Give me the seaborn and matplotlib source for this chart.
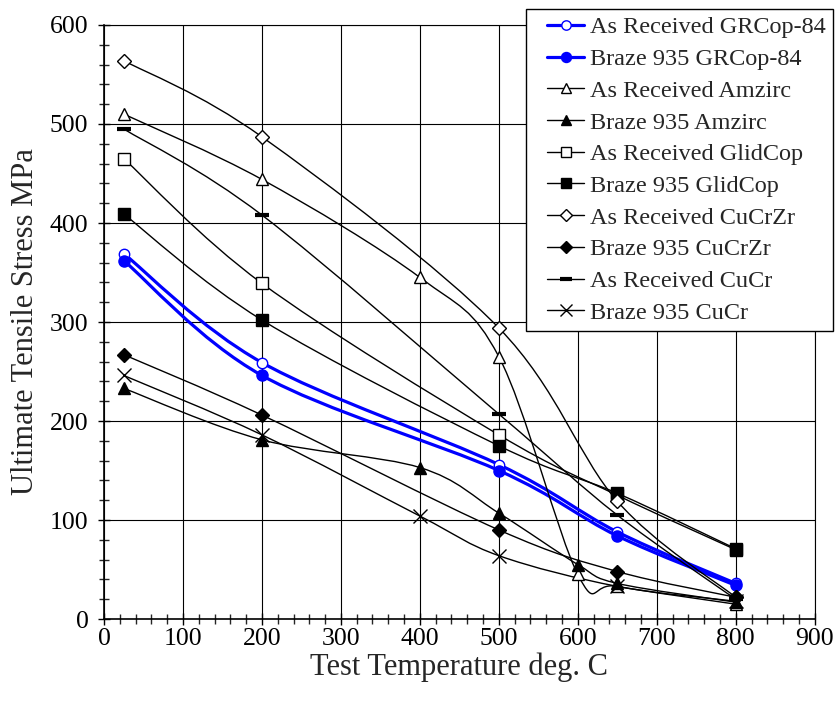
import numpy as np
import matplotlib
matplotlib.use("Agg")
import matplotlib.pyplot as plt
import seaborn as sns
from matplotlib.path import Path
from matplotlib.patches import PathPatch
from matplotlib.lines import Line2D
from matplotlib.legend_handler import HandlerLine2D
from matplotlib.ticker import MultipleLocator

# test temperatures (deg C) and ultimate tensile stress (MPa)
temp_gr = [25, 200, 500, 650, 800]
ar_grcop = [369, 259, 156, 88, 36]
bz_grcop = [362, 246, 150, 84, 34]

temp_amz = [25, 200, 400, 500, 600, 650, 800]
ar_amzirc = [510, 444, 345, 265, 45, 33, 15]
bz_amzirc = [233, 181, 153, 107, 55, 36, 17]

temp_std = [25, 200, 500, 650, 800]
ar_glidcop = [465, 339, 186, 125, 70]
bz_glidcop = [409, 302, 175, 127, 71]
ar_cucrzr = [564, 487, 294, 119, 22]
bz_cucrzr = [267, 206, 90, 48, 22]
ar_cucr = [495, 408, 207, 105, 20]

temp_bz_cucr = [25, 200, 400, 500, 650, 800]
bz_cucr = [246, 186, 104, 64, 33, 18]

series = [
    ("As Received GRCop-84", temp_gr, ar_grcop, "blue", 2.3, "o", "white", 7.5),
    ("Braze 935 GRCop-84", temp_gr, bz_grcop, "blue", 2.3, "o", "blue", 8),
    ("As Received Amzirc", temp_amz, ar_amzirc, "black", 1.0, "^", "white", 8.5),
    ("Braze 935 Amzirc", temp_amz, bz_amzirc, "black", 1.0, "^", "black", 8.5),
    ("As Received GlidCop", temp_std, ar_glidcop, "black", 1.0, "s", "white", 8),
    ("Braze 935 GlidCop", temp_std, bz_glidcop, "black", 1.0, "s", "black", 8),
    ("As Received CuCrZr", temp_std, ar_cucrzr, "black", 1.0, "D", "white", 7),
    ("Braze 935 CuCrZr", temp_std, bz_cucrzr, "black", 1.0, "D", "black", 7),
    ("As Received CuCr", temp_std, ar_cucr, "black", 1.0, "_", "black", 9.5),
    ("Braze 935 CuCr", temp_bz_cucr, bz_cucr, "black", 1.0, "x", "black", 9.5),
]


def smooth_path(x, y):
    # Excel-style smoothed line: cubic bezier through the points
    p = np.column_stack([x, y]).astype(float)
    n = len(p)
    verts = [p[0]]
    codes = [Path.MOVETO]
    for i in range(n - 1):
        p0 = p[max(i - 1, 0)]
        p3 = p[min(i + 2, n - 1)]
        verts += [p[i] + (p[i + 1] - p0) / 6, p[i + 1] - (p3 - p[i]) / 6, p[i + 1]]
        codes += [Path.CURVE4] * 3
    return Path(verts, codes)


sns.set_style("white")
plt.rcParams["font.family"] = ["Liberation Serif", "DejaVu Serif"]

fig = plt.figure(figsize=(8.39, 7.04), dpi=100)
ax = fig.add_axes([0.124, 0.1207, 0.847, 0.8438])

handles = []
for label, xs, ys, color, lw, mk, mfc, ms in series:
    ax.add_patch(PathPatch(smooth_path(xs, ys), fill=False, edgecolor=color, lw=lw, zorder=2))
    mew = 3 if mk == "_" else 1.0
    sns.lineplot(x=xs, y=ys, ax=ax, linestyle="none", marker=mk, markersize=ms,
                 markerfacecolor=mfc, markeredgecolor=color, markeredgewidth=mew,
                 color=color, zorder=3)
    handles.append(Line2D([], [], color=color, lw=lw, marker=mk, markersize=ms * 0.9,
                          markerfacecolor=mfc, markeredgecolor=color, markeredgewidth=mew))

ax.set_xlim(0, 900)
ax.set_ylim(0, 600)
ax.xaxis.set_major_locator(MultipleLocator(100))
ax.xaxis.set_minor_locator(MultipleLocator(20))
ax.yaxis.set_major_locator(MultipleLocator(100))
ax.yaxis.set_minor_locator(MultipleLocator(20))
ax.grid(True, which="major", color="black", lw=0.8)
for s in ax.spines.values():
    s.set_color("black")
    s.set_linewidth(0.8)
ax.spines["left"].set_linewidth(1.2)
ax.spines["bottom"].set_linewidth(1.2)
ax.tick_params(which="major", direction="inout", length=8.5, width=1, labelsize=18.5,
               bottom=True, left=True, colors="black")
ax.tick_params(which="minor", direction="inout", length=7, width=1, bottom=True, left=True)
ax.tick_params(axis="x", which="major", pad=2)
ax.tick_params(axis="y", which="major", pad=7)

ax.set_xlabel("Test Temperature deg. C", fontsize=22, labelpad=2)
ax.set_ylabel("Ultimate Tensile Stress MPa", fontsize=22, labelpad=7)

leg = fig.legend(handles, [s[0] for s in series], loc="upper right",
                 bbox_to_anchor=(833 / 839, 1 - 9 / 704), borderaxespad=0,
                 fontsize=17.5, frameon=True, fancybox=False, edgecolor="black",
                 framealpha=1, handlelength=2.1, labelspacing=0.4, borderpad=0.3,
                 handletextpad=0.25, handler_map={Line2D: HandlerLine2D(xpad=0.6)})
leg.get_frame().set_linewidth(1.0)

fig.savefig("out.png", dpi=100)
